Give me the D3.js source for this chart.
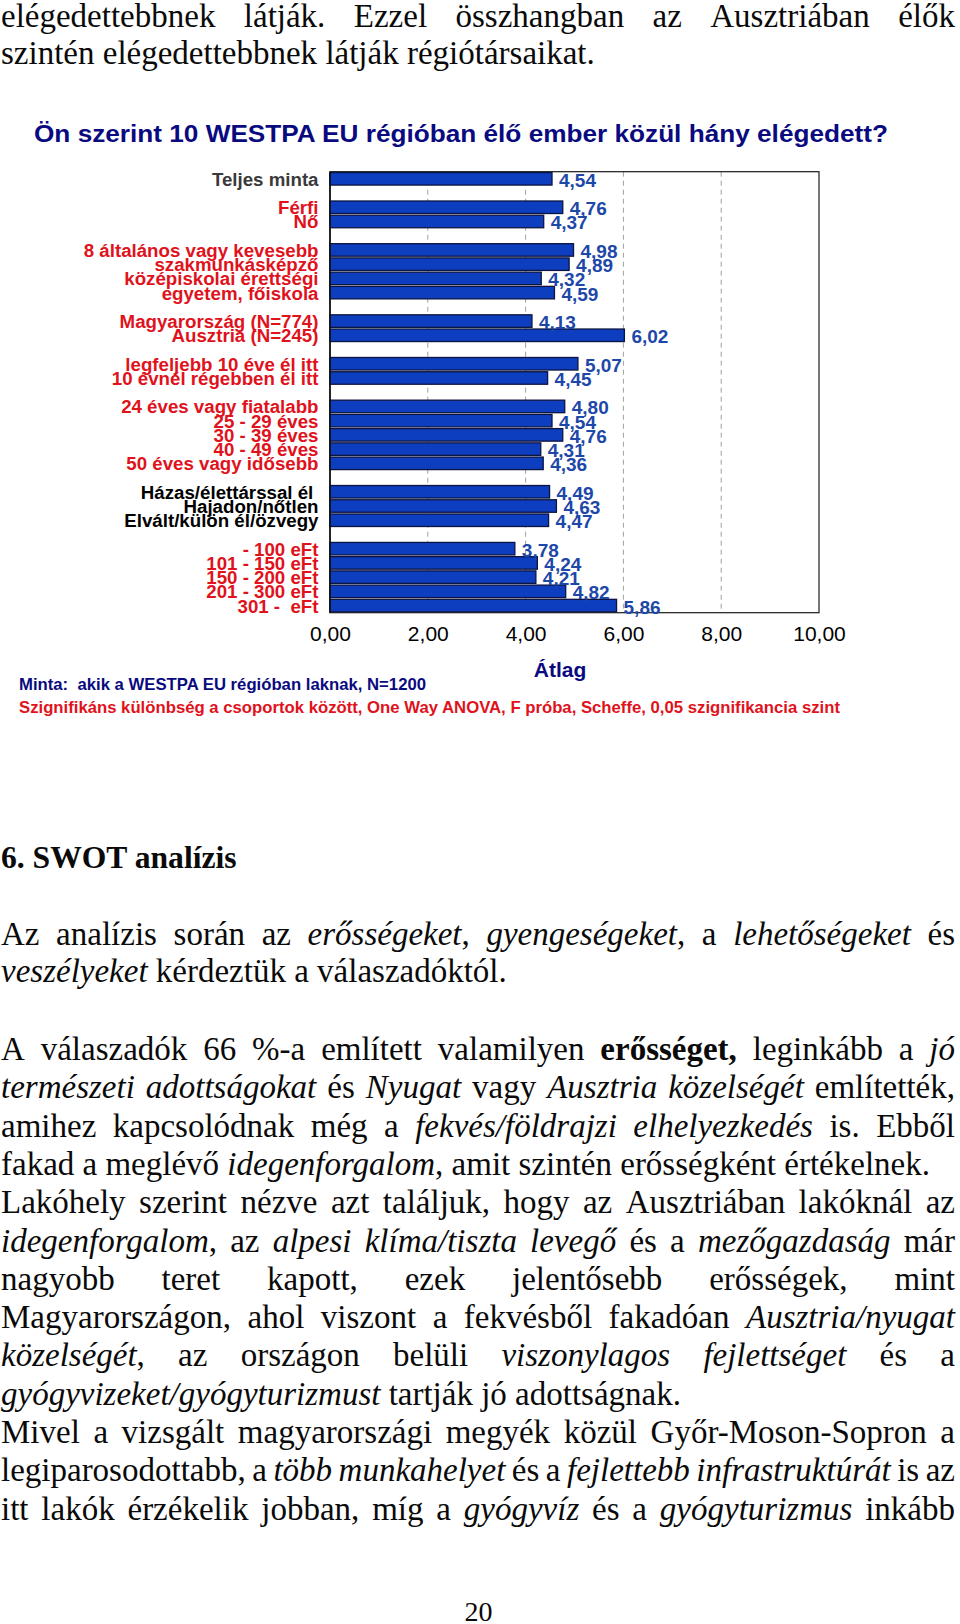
<!DOCTYPE html>
<html><head><meta charset="utf-8">
<script src="https://cdn.jsdelivr.net/npm/d3@7"></script>
<style>html,body{margin:0;padding:0;background:#fff;} svg{display:block}</style>
</head><body>
<svg id="page" width="960" height="1624"></svg>
<script>
// ---------- chart data ----------
const catTotal = ["Teljes minta"];
const valTotal = [4.54];
const catGender = ["Férfi", "Nő"];
const valGender = [4.76, 4.37];
const catEducation = ["8 általános vagy kevesebb", "szakmunkásképző", "középiskolai érettségi", "egyetem, főiskola"];
const valEducation = [4.98, 4.89, 4.32, 4.59];
const catCountry = ["Magyarország (N=774)", "Ausztria (N=245)"];
const valCountry = [4.13, 6.02];
const catResidence = ["legfeljebb 10 éve él itt", "10 évnél régebben él itt"];
const valResidence = [5.07, 4.45];
const catAge = ["24 éves vagy fiatalabb", "25 - 29 éves", "30 - 39 éves", "40 - 49 éves", "50 éves vagy idősebb"];
const valAge = [4.80, 4.54, 4.76, 4.31, 4.36];
const catMarital = ["Házas/élettárssal él ", "Hajadon/nőtlen", "Elvált/külön él/özvegy"];
const valMarital = [4.49, 4.63, 4.47];
const catIncome = ["- 100 eFt", "101 - 150 eFt", "150 - 200 eFt", "201 - 300 eFt", "301 -  eFt"];
const valIncome = [3.78, 4.24, 4.21, 4.82, 5.86];
const xTicks = [0, 2, 4, 6, 8, 10];
const xDomain = [0, 10];

const chartTitle = "Ön szerint 10 WESTPA EU régióban élő ember közül hány elégedett?";
const axisTitle = "Átlag";
const noteSample = "Minta:  akik a WESTPA EU régióban laknak, N=1200";
const noteSignif = "Szignifikáns különbség a csoportok között, One Way ANOVA, F próba, Scheffe, 0,05 szignifikancia szint";

// ---------- page text ----------
const topLines = [
  ["elégedettebbnek látják. Ezzel összhangban az Ausztriában élők", true],
  ["szintén elégedettebbnek látják régiótársaikat.", false]
];
const heading = "6. SWOT analízis";
const bodyLines1 = [
  ["Az analízis során az *erősségeket*, *gyengeségeket*, a *lehetőségeket* és", true],
  ["*veszélyeket* kérdeztük a válaszadóktól.", false]
];
const bodyLines2 = [
  ["A válaszadók 66 %-a említett valamilyen **erősséget,** leginkább a *jó*", true],
  ["*természeti adottságokat* és *Nyugat* vagy *Ausztria közelségét* említették,", true],
  ["amihez kapcsolódnak még a *fekvés/földrajzi elhelyezkedés* is. Ebből", true],
  ["fakad a meglévő *idegenforgalom*, amit szintén erősségként értékelnek.", false],
  ["Lakóhely szerint nézve azt találjuk, hogy az Ausztriában lakóknál az", true],
  ["*idegenforgalom*, az *alpesi klíma/tiszta levegő* és a *mezőgazdaság* már", true],
  ["nagyobb teret kapott, ezek jelentősebb erősségek, mint", true],
  ["Magyarországon, ahol viszont a fekvésből fakadóan *Ausztria/nyugat*", true],
  ["*közelségét*, az országon belüli *viszonylagos fejlettséget* és a", true],
  ["*gyógyvizeket/gyógyturizmust* tartják jó adottságnak.", false],
  ["Mivel a vizsgált magyarországi megyék közül Győr-Moson-Sopron a", true],
  ["legiparosodottabb, a *több munkahelyet* és a *fejlettebb infrastruktúrát* is az", true],
  ["itt lakók érzékelik jobban, míg a *gyógyvíz* és a *gyógyturizmus* inkább", true]
];
const pageNumber = "20";

// ---------- build ----------
const svg = d3.select("#page");
const SANS = "'Liberation Sans', Arial, sans-serif";
const SERIF = "'Liberation Serif', 'Times New Roman', serif";

const groups = [
  ["total", catTotal, valTotal], ["gender", catGender, valGender],
  ["education", catEducation, valEducation], ["country", catCountry, valCountry],
  ["residence", catResidence, valResidence], ["age", catAge, valAge],
  ["marital", catMarital, valMarital], ["income", catIncome, valIncome]
];
const labelColor = {total: "#3a3a3a", marital: "#000000"};
const rows = [];
groups.forEach(([key, cats, vals], gi) => {
  if (gi > 0) rows.push({id: "gap" + gi, gap: true});
  cats.forEach((c, i) => rows.push({id: key + i, key, label: c, value: vals[i]}));
});
const data = rows.filter(r => !r.gap);

const plot = {left: 330, right: 819, top: 171.7, bottom: 612.7};
const x = d3.scaleLinear().domain(xDomain).range([plot.left, plot.right]);
const y = d3.scaleBand().domain(rows.map(r => r.id)).range([plot.top, plot.bottom])
  .paddingInner(0.12).paddingOuter(0.06);
const loc = d3.formatLocale({decimal: ",", thousands: " ", grouping: [3], currency: ["", ""]});
const fmt = loc.format(".2f");

const chart = svg.append("g");

// gridlines
chart.append("g").selectAll("line").data(xTicks.filter(t => t > xDomain[0] && t < xDomain[1]))
  .join("line")
  .attr("x1", d => x(d)).attr("x2", d => x(d))
  .attr("y1", plot.top).attr("y2", plot.bottom)
  .attr("stroke", "#a0a0a0").attr("stroke-width", 1).attr("stroke-dasharray", "5,4");

// frame
chart.append("rect")
  .attr("x", plot.left).attr("y", plot.top)
  .attr("width", plot.right - plot.left).attr("height", plot.bottom - plot.top)
  .attr("fill", "none").attr("stroke", "#1a1a1a").attr("stroke-width", 1.2);

// bars
chart.append("g").selectAll("rect").data(data).join("rect")
  .attr("x", x(0)).attr("y", d => y(d.id))
  .attr("width", d => x(d.value) - x(0)).attr("height", y.bandwidth())
  .attr("fill", "#0c3ebf").attr("stroke", "#0d1440").attr("stroke-width", 1.3);

// left axis line
chart.append("line").attr("x1", plot.left).attr("x2", plot.left)
  .attr("y1", plot.top).attr("y2", plot.bottom).attr("stroke", "#111").attr("stroke-width", 1.6);

// value labels
chart.append("g").selectAll("text").data(data).join("text")
  .attr("x", d => x(d.value) + 7).attr("y", d => y(d.id) + y.bandwidth() / 2 + 8)
  .attr("font-family", SANS).attr("font-weight", "bold").attr("font-size", 19)
  .attr("fill", "#1d48a8").text(d => fmt(d.value));

// category labels
chart.append("g").selectAll("text").data(data).join("text")
  .attr("x", 318.5).attr("y", d => y(d.id) + y.bandwidth() / 2 + 7)
  .attr("text-anchor", "end").style("white-space", "pre")
  .attr("font-family", SANS).attr("font-weight", "bold").attr("font-size", 18.7)
  .attr("fill", d => labelColor[d.key] || "#e0121c").text(d => d.label);

// x axis
const xAxis = d3.axisBottom(x).tickValues(xTicks).tickFormat(fmt).tickSize(0).tickPadding(13.4);
const ax = chart.append("g").attr("transform", `translate(0,${plot.bottom})`).call(xAxis);
ax.select(".domain").remove();
ax.selectAll("text").attr("font-family", SANS).attr("font-size", 21).attr("fill", "#000");

// titles & notes
chart.append("text").attr("x", 34).attr("y", 142)
  .attr("font-family", SANS).attr("font-weight", "bold").attr("font-size", 23)
  .attr("fill", "#0a0a80").attr("textLength", 854).attr("lengthAdjust", "spacingAndGlyphs")
  .text(chartTitle);
chart.append("text").attr("x", 560).attr("y", 677).attr("text-anchor", "middle")
  .attr("font-family", SANS).attr("font-weight", "bold").attr("font-size", 21)
  .attr("fill", "#0a0a80").text(axisTitle);
chart.append("text").attr("x", 19).attr("y", 690).style("white-space", "pre")
  .attr("font-family", SANS).attr("font-weight", "bold").attr("font-size", 16.5)
  .attr("fill", "#0a0a80").attr("textLength", 407).attr("lengthAdjust", "spacingAndGlyphs")
  .text(noteSample);
chart.append("text").attr("x", 19).attr("y", 713)
  .attr("font-family", SANS).attr("font-weight", "bold").attr("font-size", 16.5)
  .attr("fill", "#e0121c").attr("textLength", 821).attr("lengthAdjust", "spacingAndGlyphs")
  .text(noteSignif);

// ---------- body text ----------
const FS = 33;
const textLeft = 1, textRight = 955;
function parseLine(str) {
  const chars = []; let it = false, bd = false;
  for (let i = 0; i < str.length; i++) {
    if (str[i] === '*' && str[i + 1] === '*') { bd = !bd; i++; continue; }
    if (str[i] === '*') { it = !it; continue; }
    chars.push({c: str[i], it, bd});
  }
  const words = []; let cur = [];
  chars.forEach(ch => { if (ch.c === ' ') { if (cur.length) { words.push(cur); cur = []; } } else cur.push(ch); });
  if (cur.length) words.push(cur);
  return words.map(w => {
    const runs = [];
    w.forEach(ch => {
      const last = runs[runs.length - 1];
      if (last && last.it === ch.it && last.bd === ch.bd) last.t += ch.c;
      else runs.push({t: ch.c, it: ch.it, bd: ch.bd});
    });
    return runs;
  });
}
const body = svg.append("g").attr("font-family", SERIF).attr("font-size", FS).attr("fill", "#0a0a0a");
function drawLine(str, justify, baseline) {
  const words = parseLine(str);
  const g = body.append("g");
  const nodes = words.map(runs => {
    const t = g.append("text").attr("y", baseline);
    runs.forEach(r => t.append("tspan")
      .attr("font-style", r.it ? "italic" : "normal")
      .attr("font-weight", r.bd ? "bold" : "normal").text(r.t));
    return t;
  });
  const widths = nodes.map(n => n.node().getComputedTextLength());
  const total = d3.sum(widths);
  const gap = (justify && nodes.length > 1) ? (textRight - textLeft - total) / (nodes.length - 1) : FS * 0.25;
  let cx = textLeft;
  nodes.forEach((n, i) => { n.attr("x", cx); cx += widths[i] + gap; });
}
const pitch = 38.3;
topLines.forEach((l, i) => drawLine(l[0], l[1], 27 + i * 37.3));
body.append("text").attr("x", textLeft).attr("y", 868).attr("font-weight", "bold")
  .attr("font-size", 31.6).text(heading);
bodyLines1.forEach((l, i) => drawLine(l[0], l[1], 945 + i * 37.3));
bodyLines2.forEach((l, i) => drawLine(l[0], l[1], 1060 + i * pitch));
body.append("text").attr("x", 478.5).attr("y", 1621).attr("text-anchor", "middle")
  .attr("font-size", 28).text(pageNumber);
</script>
</body></html>
